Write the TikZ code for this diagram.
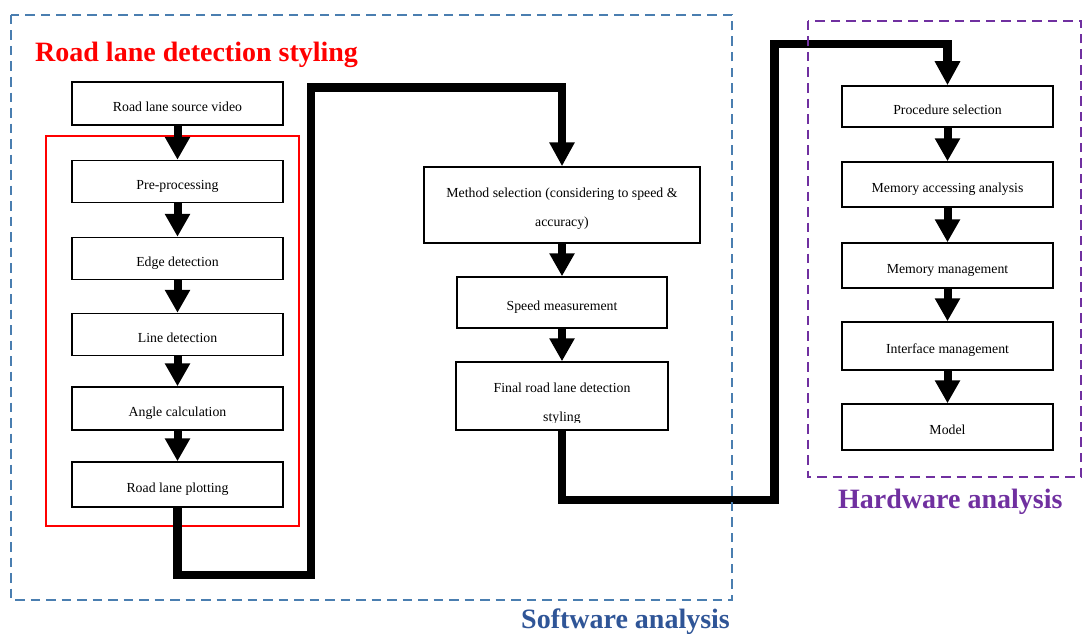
\documentclass[tikz,border=0pt]{standalone}
\usepackage{fontspec}
\setmainfont{Liberation Serif}
\usetikzlibrary{arrows.meta}
\definecolor{swblue}{RGB}{74,126,176}
\definecolor{swtext}{RGB}{47,85,151}
\definecolor{hwpurple}{RGB}{112,48,160}
\newcommand{\boxfont}{\fontsize{13.8}{29}\selectfont}
\newcommand{\headfont}{\fontsize{28}{32}\selectfont\bfseries}
\tikzset{
  stepbox/.style={draw, line width=1.5pt, fill=white, inner sep=0pt,
    font=\boxfont, align=center, text height=15pt, text depth=0pt},
  flow/.style={line width=8pt, -{Triangle[width=24pt,length=23pt]}},
  link/.style={line width=8.5pt, line join=miter, -{Triangle[width=24pt,length=24pt]}},
  zone/.style={line width=2.5pt, dash pattern=on 9.5pt off 6pt},
  heading/.style={font=\headfont, anchor=base west, inner sep=0pt}
}
\begin{document}
\begin{tikzpicture}[x=1pt,y=-1pt]
\useasboundingbox (0,0) rectangle (1084,634);

% frame around the lane-detection steps
\draw[red, line width=2pt] (46,136) rectangle (299,526);

% left column: lane detection pipeline
\node[stepbox, minimum width=211pt, minimum height=43pt] (src)   at (177.5,103.5) {Road lane source video};
\node[stepbox, minimum width=211pt, minimum height=42pt] (pre)   at (177.5,181.5) {Pre-processing};
\node[stepbox, minimum width=211pt, minimum height=42pt] (edge)  at (177.5,258.5) {Edge detection};
\node[stepbox, minimum width=211pt, minimum height=42pt] (line)  at (177.5,334.5) {Line detection};
\node[stepbox, minimum width=211pt, minimum height=43pt] (angle) at (177.5,408.5) {Angle calculation};
\node[stepbox, minimum width=211pt, minimum height=45pt] (plot)  at (177.5,484.5) {Road lane plotting};

% middle column: method evaluation
\node[stepbox, minimum width=276pt, minimum height=76pt, text height=44pt, text depth=2pt] (meth) at (562,205)
  {Method selection (considering to speed \&\\accuracy)};
\node[stepbox, minimum width=210pt, minimum height=51pt] (speed) at (562,302.5) {Speed measurement};
\node[stepbox, minimum width=212pt, minimum height=68pt] (fin)   at (562,396) {};
\begin{scope}
  \clip (fin.north west) rectangle ([yshift=8pt]fin.south east);
  \node[font=\boxfont, anchor=base, inner sep=0pt] (fin1) at (562,392) {Final road lane detection};
  \node[font=\boxfont, anchor=base, inner sep=0pt] (fin2) at (562,421) {styling};
\end{scope}

% right column: hardware steps
\node[stepbox, minimum width=211pt, minimum height=41pt] (proc)   at (947.5,106.5) {Procedure selection};
\node[stepbox, minimum width=211pt, minimum height=45pt] (memacc) at (947.5,184.5) {Memory accessing analysis};
\node[stepbox, minimum width=211pt, minimum height=45pt] (memman) at (947.5,265.5) {Memory management};
\node[stepbox, minimum width=211pt, minimum height=48pt] (iface)  at (947.5,346)   {Interface management};
\node[stepbox, minimum width=211pt, minimum height=46pt] (model)  at (947.5,427)   {Model};

% step arrows
\draw[flow] (src.south)   -- (pre.north);
\draw[flow] (pre.south)   -- (edge.north);
\draw[flow] (edge.south)  -- (line.north);
\draw[flow] (line.south)  -- (angle.north);
\draw[flow] (angle.south) -- (plot.north);
\draw[flow] (meth.south)  -- (speed.north);
\draw[flow] (speed.south) -- (fin.north);
\draw[flow] (proc.south)   -- (memacc.north);
\draw[flow] (memacc.south) -- (memman.north);
\draw[flow] (memman.south) -- (iface.north);
\draw[flow] (iface.south)  -- (model.north);

% long links between the stages
\coordinate (b1) at (311,575);
\coordinate (b2) at (311,87.5);
\coordinate (b3) at (774.5,500);
\coordinate (b4) at (774.5,44);
\draw[link] (plot.south) |- (b1) -- (b2) -| (meth.north);
\draw[link] (fin.south) |- (b3) -- (b4) -| (proc.north);

% analysis zones
\draw[zone, swblue]   (11,15) rectangle (732,600);
\draw[zone, hwpurple] (808,21) rectangle (1081,477);

% headings
\node[heading, text=red]      (ttl) at (35,62)   {Road lane detection styling};
\node[heading, text=swtext]   (sw)  at (521,628) {Software analysis};
\node[heading, text=hwpurple] (hw)  at (838,508) {Hardware analysis};
\end{tikzpicture}
\end{document}
